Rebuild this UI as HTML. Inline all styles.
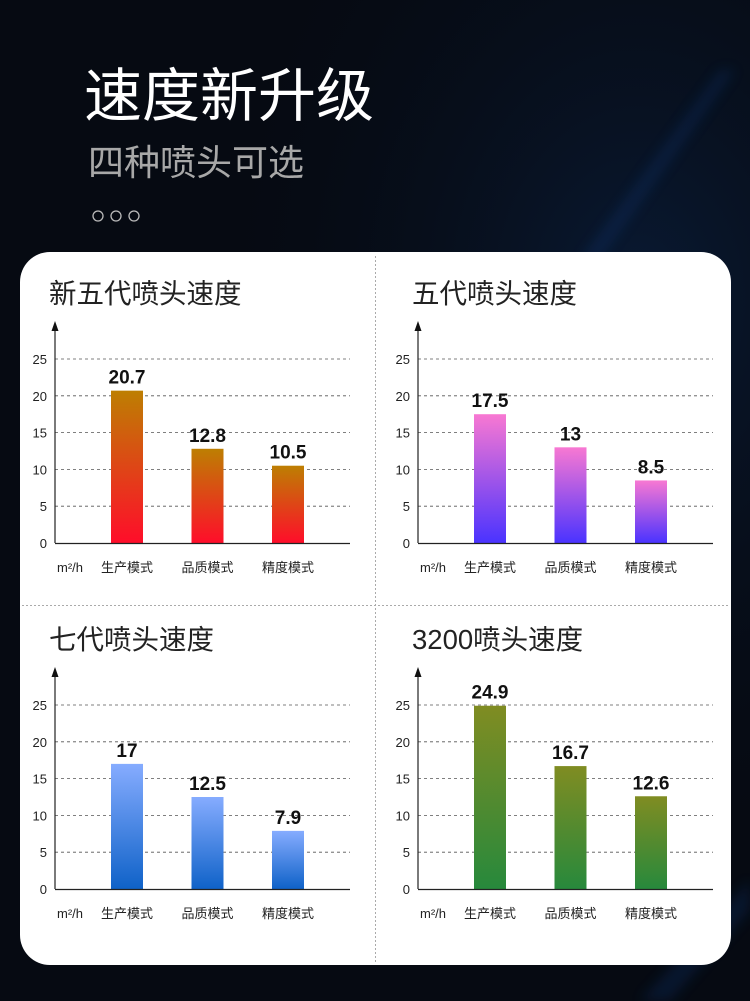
<!DOCTYPE html>
<html><head><meta charset="utf-8">
<style>
html,body{margin:0;padding:0;width:750px;height:1001px;overflow:hidden;background:#060a12;}
svg{display:block;font-family:"Liberation Sans","Noto Sans CJK SC",sans-serif;}
</style></head>
<body>
<svg id="page" width="750" height="1001" viewBox="0 0 750 1001" xmlns="http://www.w3.org/2000/svg">
<defs>
<radialGradient id="bgglow" cx="0.85" cy="0.3" r="0.6">
<stop offset="0" stop-color="#0d2a55" stop-opacity="0.5"/><stop offset="1" stop-color="#060a12" stop-opacity="0"/></radialGradient>
<linearGradient id="g0" x1="0" y1="0" x2="0" y2="1"><stop offset="0" stop-color="#bd7f02"/><stop offset="1" stop-color="#ff0d2a"/></linearGradient>
<linearGradient id="g1" x1="0" y1="0" x2="0" y2="1"><stop offset="0" stop-color="#f878d2"/><stop offset="1" stop-color="#4a33ff"/></linearGradient>
<linearGradient id="g2" x1="0" y1="0" x2="0" y2="1"><stop offset="0" stop-color="#86acff"/><stop offset="1" stop-color="#0f62c8"/></linearGradient>
<linearGradient id="g3" x1="0" y1="0" x2="0" y2="1"><stop offset="0" stop-color="#808c22"/><stop offset="1" stop-color="#27893c"/></linearGradient>
<filter id="blur"><feGaussianBlur stdDeviation="6"/></filter>
</defs>
<rect width="750" height="1001" fill="#060a12"/>
<rect width="750" height="1001" fill="url(#bgglow)"/>
<path d="M580 260 L720 70 L735 70 L600 260Z" fill="#0f3a80" opacity="0.25" filter="url(#blur)"/>
<path d="M640 1001 L750 880 L750 910 L670 1001Z" fill="#0f3a80" opacity="0.25" filter="url(#blur)"/>
<text x="84" y="116" font-size="58" fill="#ffffff">速度新升级</text>
<text x="88" y="175" font-size="36" fill="#a8a8a8">四种喷头可选</text>
<g fill="none" stroke="#bbb" stroke-width="1.3">
<circle cx="98" cy="216" r="5"/><circle cx="116" cy="216" r="5"/><circle cx="134" cy="216" r="5"/></g>
<rect x="20" y="252" width="711" height="713" rx="30" fill="#ffffff"/>
<line x1="375.5" y1="256" x2="375.5" y2="962" stroke="#aaa" stroke-dasharray="2,2"/>
<line x1="22" y1="605.5" x2="729" y2="605.5" stroke="#aaa" stroke-dasharray="2,2"/>
<g id="charts"></g>
</svg>
<script>
const titles = ["新五代喷头速度","五代喷头速度","七代喷头速度","3200喷头速度"];
const categories = ["生产模式","品质模式","精度模式"];
const series0 = [20.7, 12.8, 10.5];
const series1 = [17.5, 13, 8.5];
const series2 = [17, 12.5, 7.9];
const series3 = [24.9, 16.7, 12.6];
const yTicks = [0,5,10,15,20,25];
const labels0 = ["20.7","12.8","10.5"];
const labels1 = ["17.5","13","8.5"];
const labels2 = ["17","12.5","7.9"];
const labels3 = ["24.9","16.7","12.6"];
const allSeries=[series0,series1,series2,series3];
const allLabels=[labels0,labels1,labels2,labels3];
const NS="http://www.w3.org/2000/svg";
const root=document.getElementById('charts');
function mk(tag,attrs,parent){const e=document.createElementNS(NS,tag);for(const k in attrs)e.setAttribute(k,attrs[k]);parent.appendChild(e);return e;}
const origins=[[55,543],[418,543],[55,889],[418,889]];
const unit=7.36;
allSeries.forEach((vals,ci)=>{
  const [ox,oy]=origins[ci];
  const g=mk('g',{},root);
  
  
  const yS=v=>oy-v*unit;
  const xS=i=>ox+72+i*80.5;
  const t=mk('text',{x:ox-6,y:oy-240,'font-size':27.5,fill:'#222'},g);t.textContent=titles[ci];
  
  
  yTicks.forEach(v=>{
    if(v>0){const l=mk('line',{x1:ox,x2:ox+295,y1:yS(v),y2:yS(v),stroke:'#555','stroke-dasharray':'3,3','stroke-width':0.8},g);
    
    }
    const tl=mk('text',{x:ox-8,y:yS(v)+5,'font-size':13,fill:'#222','text-anchor':'end'},g);tl.textContent=v;
    
    
  });
  vals.forEach((v,i)=>{
    const b=mk('rect',{x:xS(i)-16,y:yS(v),width:32,height:v*unit,fill:'url(#g'+ci+')'},g);
    
    
    const vl=mk('text',{x:xS(i),y:yS(v)-7,'font-size':19,'font-weight':'bold',fill:'#111','text-anchor':'middle'},g);vl.textContent=allLabels[ci][i];
    
    
    const cl=mk('text',{x:xS(i),y:oy+29,'font-size':13,fill:'#222','text-anchor':'middle'},g);cl.textContent=categories[i];
    
    
  });
  const xa=mk('line',{x1:ox,x2:ox+295,y1:oy+0.5,y2:oy+0.5,stroke:'#222','stroke-width':1.2},g);
  
  
  const ya=mk('line',{x1:ox,x2:ox,y1:oy,y2:oy-214,stroke:'#222','stroke-width':1.2},g);
  
  
  const ar=mk('path',{d:`M${ox-3.5} ${oy-212} L${ox} ${oy-222} L${ox+3.5} ${oy-212}Z`,fill:'#111'},g);
  
  
  const u=mk('text',{x:ox+2,y:oy+29,'font-size':13,fill:'#222'},g);u.textContent='m²/h';
  
  
});
</script>
</body></html>
